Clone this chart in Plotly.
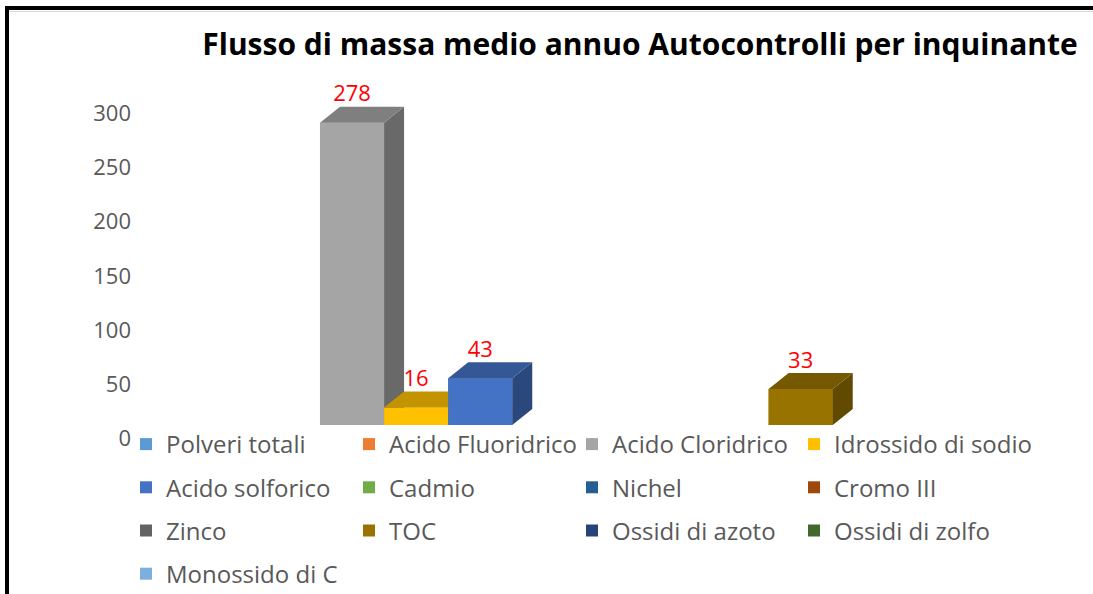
import plotly.graph_objects as go

# dati
inquinanti = ["Polveri totali", "Acido Fluoridrico", "Acido Cloridrico", "Idrossido di sodio",
              "Acido solforico", "Cadmio", "Nichel", "Cromo III",
              "Zinco", "TOC", "Ossidi di azoto", "Ossidi di zolfo",
              "Monossido di C"]
flusso = [0, 0, 278, 16, 43, 0, 0, 0, 0, 33, 0, 0, 0]
colori = ["#5B9BD5", "#ED7D31", "#A5A5A5", "#FFC000",
          "#4472C4", "#70AD47", "#255E91", "#9E480E",
          "#636363", "#997300", "#264478", "#43682B",
          "#7CAFDD"]
tick_vals = [0, 50, 100, 150, 200, 250, 300]
titolo = "Flusso di massa medio annuo Autocontrolli per inquinante"

W, H = 1093, 594
FONT = "Open Sans"
GRIGIO = "#595959"
LEGENDE = ["legend", "legend2", "legend3", "legend4"]

def fx(p): return p / W
def fy(p): return 1 - p / H

# profondita' 3D in unita' degli assi
DX = 20 / 64.1
DY = 16 / 1.0877

def shade(hex_col, k):
    r, g, b = (int(hex_col[j:j+2], 16) for j in (1, 3, 5))
    return "rgb(%d,%d,%d)" % (r*k, g*k, b*k)

fig = go.Figure()

# asse con le etichette dei valori (parete di fondo)
fig.add_trace(go.Scatter(x=[0], y=[0], xaxis="x", yaxis="y", mode="markers",
                         marker=dict(opacity=0), hoverinfo="skip", showlegend=False))

# una legenda per colonna (4 colonne come in Excel)
for i, (nome, v, c) in enumerate(zip(inquinanti, flusso, colori)):
    fig.add_trace(go.Bar(x=[i], y=[v], name=nome, width=1, marker=dict(color=c, line=dict(width=0)),
                         xaxis="x", yaxis="y2", legend=LEGENDE[i % 4], legendgroup=nome))

for i, (v, c) in enumerate(zip(flusso, colori)):
    if v == 0:
        continue
    l, r = i - 0.5, i + 0.5
    facce = [
        ([l, r, r, l, l], [0, 0, v, v, 0], c),
        ([r, r + DX, r + DX, r, r], [0, DY, v + DY, v, 0], shade(c, 0.64)),
        ([l, l + DX, r + DX, r, l], [v, v + DY, v + DY, v, v], shade(c, 0.77)),
    ]
    for xs, ys, col in facce:
        fig.add_trace(go.Scatter(x=xs, y=ys, fill="toself", fillcolor=col, mode="lines",
                                 line=dict(width=0, color=col), hoverinfo="skip",
                                 showlegend=False, xaxis="x", yaxis="y2"))

etich_x = [i for i, v in enumerate(flusso) if v]
etich_y = [v + DY for v in flusso if v]
fig.add_trace(go.Scatter(x=etich_x, y=etich_y, text=[str(v) for v in flusso if v],
                         mode="text", textposition="top center", cliponaxis=False,
                         textfont=dict(family=FONT, size=22, color="#FF0000"),
                         showlegend=False, hoverinfo="skip", xaxis="x", yaxis="y2"))

leg_base = dict(orientation="v", xanchor="left", yanchor="top", y=fy(422),
                tracegroupgap=9,
                font=dict(family=FONT, size=24, color=GRIGIO), bgcolor="rgba(0,0,0,0)")
col_x = [126, 349, 572, 794]

fig.update_layout(
    width=W, height=H,
    margin=dict(l=0, r=0, t=0, b=0, autoexpand=False),
    paper_bgcolor="white", plot_bgcolor="rgba(0,0,0,0)",
    barmode="overlay",
    title=dict(text=titolo, x=fx(640), y=fy(44), xanchor="center", yanchor="middle",
               font=dict(family=FONT, size=30, color="black", weight="bold")),
    xaxis=dict(range=[-0.5, 12.5], domain=[fx(191.8), fx(1025)], visible=False,
               anchor="y"),
    yaxis=dict(range=[-1, 301], domain=[fy(439.4), fy(112.2)], anchor="free",
               position=fx(131), tickvals=tick_vals, showgrid=False, zeroline=False,
               showline=False, ticks="", tickfont=dict(family=FONT, size=22, color=GRIGIO)),
    yaxis2=dict(range=[0, 300], domain=[fy(425), fy(98.7)], anchor="x", visible=False),
    shapes=[
        dict(type="rect", xref="paper", yref="paper", x0=fx(5), x1=fx(9), y0=0, y1=fy(6),
             fillcolor="black", line=dict(width=0)),
        dict(type="rect", xref="paper", yref="paper", x0=fx(5), x1=1, y0=fy(10), y1=fy(6),
             fillcolor="black", line=dict(width=0)),
        dict(type="line", xref="paper", yref="paper", x0=fx(9.5), x1=1, y0=fy(11.5), y1=fy(11.5),
             line=dict(color="#D9D9D9", width=1)),
    ],
)
for nome_leg, x in zip(LEGENDE, col_x):
    fig.update_layout({nome_leg: dict(leg_base, x=fx(x))})

fig.write_html("out.html", config={"displayModeBar": False},
               post_script="document.body.style.margin='0';")
